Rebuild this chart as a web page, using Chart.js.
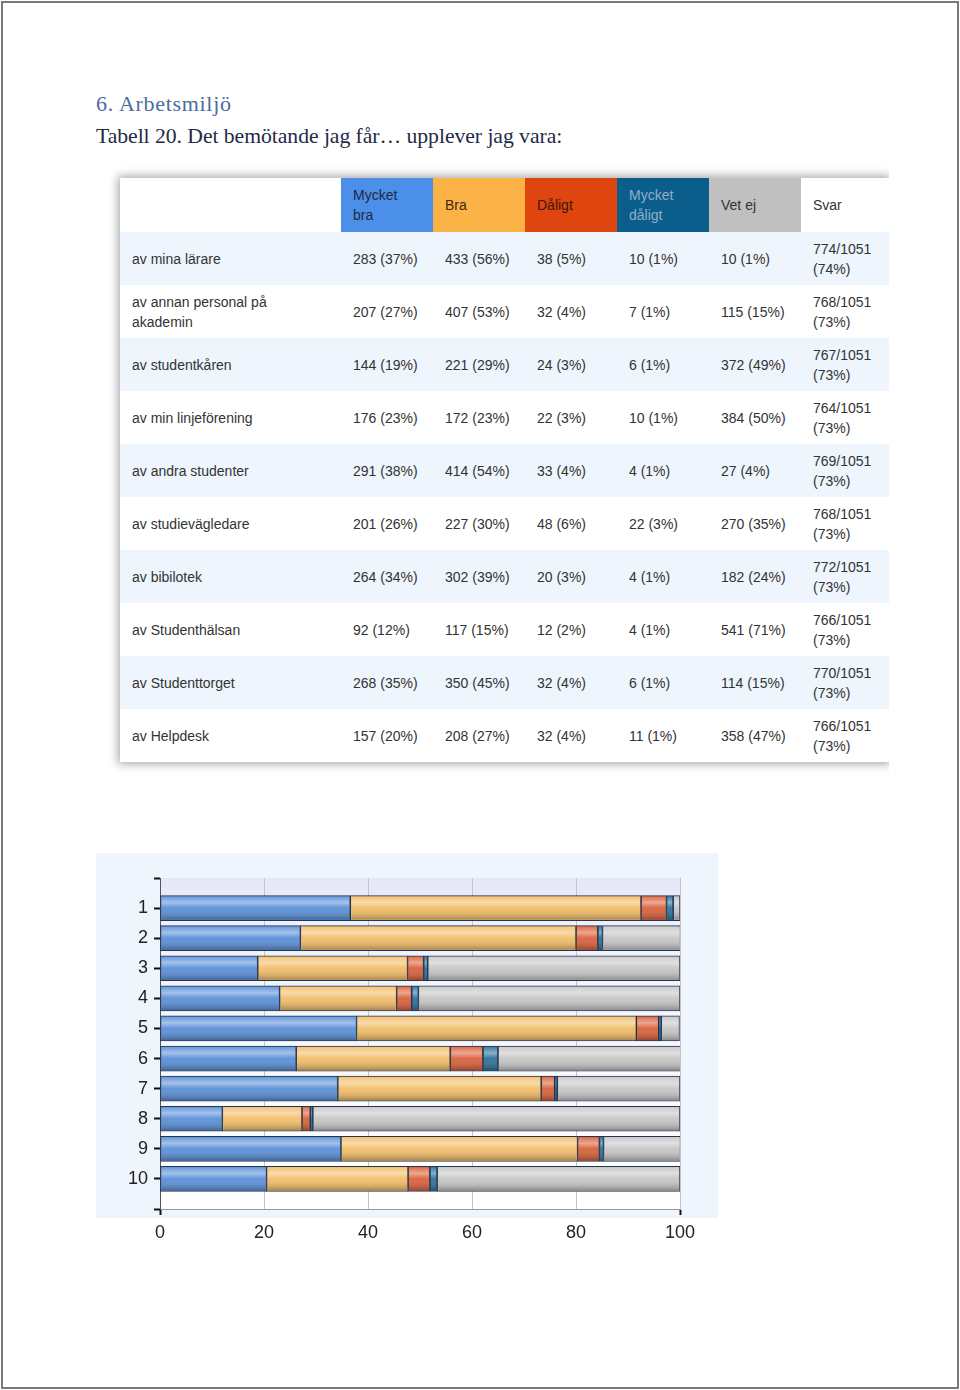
<!DOCTYPE html>
<html>
<head>
<meta charset="utf-8">
<script src="https://cdn.jsdelivr.net/npm/chart.js"></script>
<style>
  body { margin: 0; background: #fff; }
  #page { position: relative; width: 960px; height: 1390px; overflow: hidden; }
  #frame { position: absolute; left: 1px; top: 1px; width: 958px; height: 1388px; box-sizing: border-box; border: 2px solid #7a7a7a; }
  #heading { position: absolute; left: 96px; top: 87px; font-family: "Liberation Serif", "DejaVu Serif", serif; font-size: 22px; line-height: 33px; }
  #heading .h { color: #4a6d9e; letter-spacing: 0.7px; }
  #heading .c { color: #1f2b45; font-size: 21.7px; letter-spacing: -0.05px; }
  #tableClip { position: absolute; left: 100px; top: 158px; width: 789px; height: 630px; overflow: hidden; }
  #tbl { position: absolute; left: 20px; top: 20px; width: 769px; border-collapse: collapse; background: #fff;
         box-shadow: 0 0 9px 2px rgba(0,0,0,0.35); font-family: "Liberation Sans", Arial, sans-serif; font-size: 14px; color: #333; }
  #tbl td { padding: 0 0 0 12px; vertical-align: middle; line-height: 20px; height: 53px; box-sizing: border-box; }
  #tbl tr.head td { height: 54px; }
  #tbl tr.odd td { background: #eef5fd; }
  #chartBox { position: absolute; left: 96px; top: 853px; width: 622px; height: 410px; }
  #chartBg { position: absolute; left: 0; top: 0; width: 622px; height: 365px; background: #eff5fc; }
  #chartBox canvas { position: absolute; left: 0; top: 0; }
</style>
</head>
<body>
<div id="page">
  <div id="frame"></div>
  <div id="heading">
    <div class="h">6. Arbetsmiljö</div>
    <div class="c">Tabell 20. Det bemötande jag får… upplever jag vara:</div>
  </div>
  <div id="tableClip"><table id="tbl"></table></div>
  <div id="chartBox">
    <div id="chartBg"></div>
    <canvas id="barChart" width="622" height="410"></canvas>
  </div>
</div>
<script>
// table content
let headers = ["Mycket bra", "Bra", "Dåligt", "Mycket dåligt", "Vet ej"];
let headerColors = ["#4b8fe8", "#fbb247", "#df450f", "#0b5e8b", "#c0c0c0"];
let headerText = ["#1d2a44", "#3a2a10", "#3a1a08", "#8fb0c6", "#333333"];
let rowLabels = ["av mina lärare", "av annan personal på akademin", "av studentkåren", "av min linjeförening",
  "av andra studenter", "av studievägledare", "av bibilotek", "av Studenthälsan", "av Studenttorget", "av Helpdesk"];

let nMycketBra = [283, 207, 144, 176, 291, 201, 264, 92, 268, 157];
let pMycketBra = [37, 27, 19, 23, 38, 26, 34, 12, 35, 20];
let nBra = [433, 407, 221, 172, 414, 227, 302, 117, 350, 208];
let pBra = [56, 53, 29, 23, 54, 30, 39, 15, 45, 27];
let nDaligt = [38, 32, 24, 22, 33, 48, 20, 12, 32, 32];
let pDaligt = [5, 4, 3, 3, 4, 6, 3, 2, 4, 4];
let nMycketDaligt = [10, 7, 6, 10, 4, 22, 4, 4, 6, 11];
let pMycketDaligt = [1, 1, 1, 1, 1, 3, 1, 1, 1, 1];
let nVetEj = [10, 115, 372, 384, 27, 270, 182, 541, 114, 358];
let pVetEj = [1, 15, 49, 50, 4, 35, 24, 71, 15, 47];
let svarN = [774, 768, 767, 764, 769, 768, 772, 766, 770, 766];
let svarP = [74, 73, 73, 73, 73, 73, 73, 73, 73, 73];
let svarTotal = 1051;

// chart content (share in % per row)
let categories = [1, 2, 3, 4, 5, 6, 7, 8, 9, 10];
let valMycketBra = [36.6, 27.0, 18.8, 23.0, 37.8, 26.2, 34.2, 12.0, 34.8, 20.5];
let valBra = [55.9, 53.0, 28.8, 22.5, 53.8, 29.6, 39.1, 15.3, 45.5, 27.2];
let valDaligt = [4.9, 4.2, 3.1, 2.9, 4.3, 6.3, 2.6, 1.6, 4.2, 4.2];
let valMycketDaligt = [1.3, 0.9, 0.8, 1.3, 0.5, 2.9, 0.5, 0.5, 0.8, 1.4];
let valVetEj = [1.3, 15.0, 48.5, 50.3, 3.5, 35.2, 23.6, 70.6, 14.8, 46.7];
let xTicks = [0, 20, 40, 60, 80, 100];



function buildTable() {
  let tbl = document.getElementById("tbl");
  let html = '<tr class="head"><td style="width:221px"></td>';
  for (let i = 0; i < headers.length; i++) {
    html += '<td style="width:92px;padding-right:22px;background:' + headerColors[i] + ';color:' + headerText[i] + '">' + headers[i] + '</td>';
  }
  html += '<td>Svar</td></tr>';

  let cols = [[nMycketBra, pMycketBra], [nBra, pBra], [nDaligt, pDaligt], [nMycketDaligt, pMycketDaligt], [nVetEj, pVetEj]];
  for (let r = 0; r < rowLabels.length; r++) {
    html += '<tr class="' + (r % 2 === 0 ? "odd" : "even") + '">';
    html += '<td style="padding-right:60px">' + rowLabels[r] + '</td>';
    for (let c = 0; c < cols.length; c++) {
      html += '<td>' + cols[c][0][r] + ' (' + cols[c][1][r] + '%)</td>';
    }
    html += '<td>' + svarN[r] + '/' + svarTotal + '<br>(' + svarP[r] + '%)</td></tr>';
  }
  tbl.innerHTML = html;
}

buildTable();



function toPoints(values) {
  return categories.map((c, i) => ({ x: values[i], y: c }));
}

// light/dark sheen over every bar
const glossPlugin = {
  id: "gloss",
  afterDatasetsDraw(chart) {
    let ctx = chart.ctx;
    chart.data.datasets.forEach((ds, i) => {
      chart.getDatasetMeta(i).data.forEach(bar => {
        let p = bar.getProps(["x", "y", "base", "height"], true);
        let left = Math.min(p.x, p.base), right = Math.max(p.x, p.base);
        let top = p.y - p.height / 2;
        if (right - left < 2) return;
        let g = ctx.createLinearGradient(0, top, 0, top + p.height);
        g.addColorStop(0, "rgba(255,255,255,0.05)");
        g.addColorStop(0.28, "rgba(255,255,255,0.45)");
        g.addColorStop(0.5, "rgba(255,255,255,0.05)");
        g.addColorStop(1, "rgba(0,0,0,0.35)");
        ctx.save();
        ctx.fillStyle = g;
        ctx.fillRect(left + 1, top + 1, right - left - 2, p.height - 2);
        ctx.restore();
      });
    });
  }
};

const plotBgPlugin = {
  id: "plotBg",
  beforeDraw(chart) {
    let a = chart.chartArea, ctx = chart.ctx;
    let g = ctx.createLinearGradient(0, a.top, 0, a.bottom);
    g.addColorStop(0, "#e6e6f6");
    g.addColorStop(0.15, "#eef1fb");
    g.addColorStop(1, "#ffffff");
    ctx.save();
    ctx.fillStyle = g;
    ctx.fillRect(a.left, a.top, a.right - a.left, a.bottom - a.top);
    ctx.restore();
  }
};

const narrow = "'Liberation Sans Narrow', 'Liberation Sans', Arial, sans-serif";

new Chart(document.getElementById("barChart").getContext("2d"), {
  type: "bar",
  data: {
    datasets: [
      { label: "Mycket bra", data: toPoints(valMycketBra), backgroundColor: "#5a8fd8" },
      { label: "Bra", data: toPoints(valBra), backgroundColor: "#f2bd68" },
      { label: "Dåligt", data: toPoints(valDaligt), backgroundColor: "#d9603a" },
      { label: "Mycket dåligt", data: toPoints(valMycketDaligt), backgroundColor: "#2c6f9a" },
      { label: "Vet ej", data: toPoints(valVetEj), backgroundColor: "#c6c6c6" }
    ]
  },
  options: {
    indexAxis: "y",
    responsive: false,
    animation: false,
    datasets: {
      bar: { barThickness: 25, borderColor: "#23344e", borderWidth: 1, borderSkipped: false }
    },
    layout: { padding: { top: 25, right: 38, left: 0, bottom: 0 } },
    plugins: { legend: { display: false }, tooltip: { enabled: false } },
    scales: {
      x: {
        type: "linear",
        stacked: true,
        min: 0,
        max: 100,
        afterBuildTicks: s => { s.ticks = xTicks.map(v => ({ value: v })); },
        afterFit: s => { s.height = 54; },
        grid: {
          color: "#c4c4c4",
          tickLength: 6,
          tickColor: c => (c.tick && (c.tick.value === 0 || c.tick.value === 100)) ? "#111" : "rgba(0,0,0,0)",
          tickWidth: 2
        },
        border: { display: true, color: "#9a9a9a" },
        ticks: { color: "#222", padding: 7, font: { family: narrow, size: 18 } }
      },
      y: {
        type: "linear",
        stacked: true,
        reverse: true,
        offset: false,
        min: 0,
        max: 11,
        afterFit: s => { s.width = 64; },
        grid: { drawOnChartArea: false, offset: false, tickLength: 6, tickColor: "#111", tickWidth: 2 },
        border: { display: true, color: "#555", width: 1 },
        ticks: {
          stepSize: 1,
          color: "#222",
          padding: 6,
          font: { family: narrow, size: 18 },
          callback: v => (v >= 1 && v <= 10) ? String(v) : ""
        }
      }
    }
  },
  plugins: [plotBgPlugin, glossPlugin]
});
</script>
</body>
</html>
